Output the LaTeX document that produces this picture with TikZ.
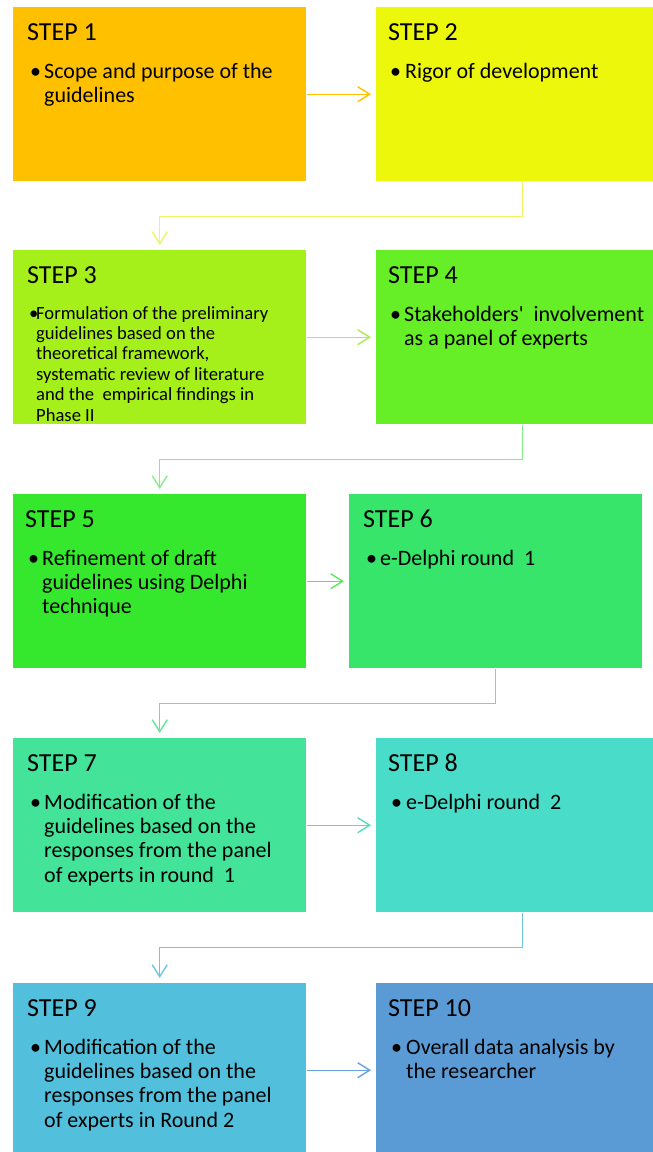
\documentclass[tikz,border=0pt]{standalone}
\usepackage{fontspec}
\setmainfont{Carlito}
\usetikzlibrary{arrows.meta,calc}
\definecolor{f1}{HTML}{FFC000}
\definecolor{f2}{HTML}{EDF70C}
\definecolor{f3}{HTML}{A5F01B}
\definecolor{f4}{HTML}{66EE26}
\definecolor{f5}{HTML}{35E82E}
\definecolor{f6}{HTML}{37E56B}
\definecolor{f7}{HTML}{43E49A}
\definecolor{f8}{HTML}{49DCC8}
\definecolor{f9}{HTML}{52C0DC}
\definecolor{f10}{HTML}{5B9BD5}
\definecolor{a1}{HTML}{FFC000}
\definecolor{a2}{HTML}{EEF560}
\definecolor{a3}{HTML}{A8F050}
\definecolor{a4}{HTML}{86EE86}
\definecolor{a5}{HTML}{58EA58}
\definecolor{a6}{HTML}{62E698}
\definecolor{a7}{HTML}{52DCC2}
\definecolor{a8}{HTML}{6CC8E0}
\definecolor{a9}{HTML}{68A2DA}
\begin{document}
\begin{tikzpicture}[x=1pt,y=-1pt,
  stepbox/.style={rectangle, draw=none, inner sep=0pt, minimum width=293pt, minimum height=174pt, anchor=north west},
  head/.style={anchor=base west, inner sep=0pt, font=\fontsize{26}{30}\selectfont},
  bigtext/.style={anchor=base west, inner sep=0pt, font=\fontsize{22}{24.4}\selectfont},
  smalltext/.style={anchor=base west, inner sep=0pt, font=\fontsize{18.6}{20.4}\selectfont},
  conn/.style={line width=1.4pt, -{Straight Barb[length=12pt,width=15pt]}, shorten >=5pt, shorten <=1pt}
]
\useasboundingbox (0,0) rectangle (653,1152);
\fill[white] (0,0) rectangle (653,1152);

% boxes
\node[stepbox, fill=f1]  (s1)  at (13,7) {};
\node[stepbox, fill=f2]  (s2)  at (376,7) {};
\node[stepbox, fill=f3]  (s3)  at (13,250) {};
\node[stepbox, fill=f4]  (s4)  at (376,250) {};
\node[stepbox, fill=f5]  (s5)  at (13,494) {};
\node[stepbox, fill=f6]  (s6)  at (349,494) {};
\node[stepbox, fill=f7]  (s7)  at (13,738) {};
\node[stepbox, fill=f8]  (s8)  at (376,738) {};
\node[stepbox, fill=f9]  (s9)  at (13,983) {};
\node[stepbox, fill=f10] (s10) at (376,983) {};

% headings
\node[head] (h1)  at ($(s1.north west)+(14,33)$)  {STEP 1};
\node[head] (h2)  at ($(s2.north west)+(12,33)$)  {STEP 2};
\node[head] (h3)  at ($(s3.north west)+(14,33)$)  {STEP 3};
\node[head] (h4)  at ($(s4.north west)+(12,33)$)  {STEP 4};
\node[head] (h5)  at ($(s5.north west)+(12,33)$)  {STEP 5};
\node[head] (h6)  at ($(s6.north west)+(14,33)$)  {STEP 6};
\node[head] (h7)  at ($(s7.north west)+(14,33)$)  {STEP 7};
\node[head] (h8)  at ($(s8.north west)+(12,33)$)  {STEP 8};
\node[head] (h9)  at ($(s9.north west)+(14,33)$)  {STEP 9};
\node[head] (h10) at ($(s10.north west)+(12,33)$) {STEP 10};

% bullets and texts
\node[bigtext] (b1) at ($(s1.north west)+(17,71)$) {\textbullet};
\node[bigtext] (t1) at ($(s1.north west)+(31,71)$) {\parbox[t]{280pt}{Scope and purpose of the\\guidelines}};

\node[bigtext] (b2) at ($(s2.north west)+(14,71)$) {\textbullet};
\node[bigtext] (t2) at ($(s2.north west)+(29,71)$) {\parbox[t]{280pt}{Rigor of development}};

\node[smalltext] (b3) at ($(s3.north west)+(16,69)$) {\textbullet};
\node[smalltext] (t3) at ($(s3.north west)+(23,69)$) {\parbox[t]{285pt}{Formulation of the preliminary\\guidelines based on the\\theoretical framework,\\systematic review of literature\\and the~ empirical findings in\\Phase II}};

\node[bigtext] (b4) at ($(s4.north west)+(14,71)$) {\textbullet};
\node[bigtext] (t4) at ($(s4.north west)+(28,71)$) {\parbox[t]{280pt}{Stakeholders\textquotesingle~ involvement\\as a panel of experts}};

\node[bigtext] (b5) at ($(s5.north west)+(15,71)$) {\textbullet};
\node[bigtext] (t5) at ($(s5.north west)+(29,71)$) {\parbox[t]{280pt}{Refinement of draft\\guidelines using Delphi\\technique}};

\node[bigtext] (b6) at ($(s6.north west)+(17,71)$) {\textbullet};
\node[bigtext] (t6) at ($(s6.north west)+(31,71)$) {\parbox[t]{280pt}{e-Delphi round~ 1}};

\node[bigtext] (b7) at ($(s7.north west)+(17,71)$) {\textbullet};
\node[bigtext] (t7) at ($(s7.north west)+(31,71)$) {\parbox[t]{280pt}{Modification of the\\guidelines based on the\\responses from the panel\\of experts in round~ 1}};

\node[bigtext] (b8) at ($(s8.north west)+(15,71)$) {\textbullet};
\node[bigtext] (t8) at ($(s8.north west)+(30,71)$) {\parbox[t]{280pt}{e-Delphi round~ 2}};

\node[bigtext] (b9) at ($(s9.north west)+(17,71)$) {\textbullet};
\node[bigtext] (t9) at ($(s9.north west)+(31,71)$) {\parbox[t]{280pt}{Modification of the\\guidelines based on the\\responses from the panel\\of experts in Round 2}};

\node[bigtext] (b10) at ($(s10.north west)+(15,71)$) {\textbullet};
\node[bigtext] (t10) at ($(s10.north west)+(30,71)$) {\parbox[t]{280pt}{Overall data analysis by\\the researcher}};

% connectors
\draw[conn, a1] (s1.east) -- (s2.west);
\draw[conn, a2] (s2.south) -- ++(0,35) -| (s3.north);
\draw[conn, a3] (s3.east) -- (s4.west);
\draw[conn, a4] (s4.south) -- ++(0,35) -| (s5.north);
\draw[conn, a5] (s5.east) -- (s6.west);
\draw[conn, a6] (s6.south) -- ++(0,35) -| (s7.north);
\draw[conn, a7] (s7.east) -- (s8.west);
\draw[conn, a8] (s8.south) -- ++(0,35) -| (s9.north);
\draw[conn, a9] (s9.east) -- (s10.west);
\end{tikzpicture}
\end{document}
